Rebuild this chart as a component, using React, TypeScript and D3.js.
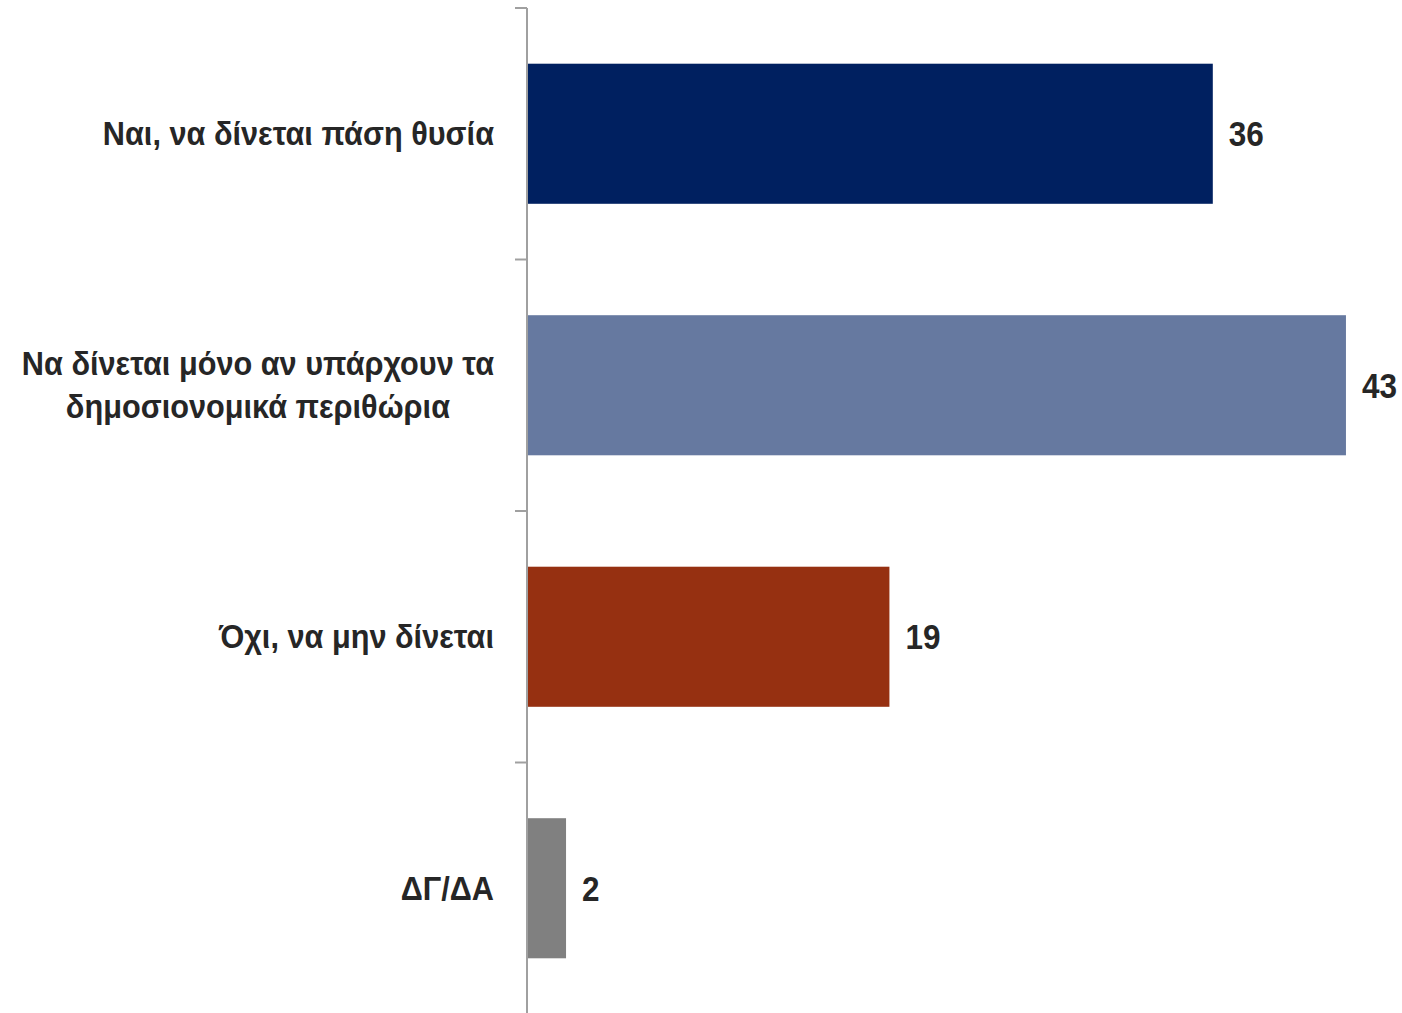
import React, { useEffect, useRef } from "react";
import * as d3 from "d3";

const categories = [
  ["Ναι, να δίνεται πάση θυσία"],
  ["Να δίνεται μόνο αν υπάρχουν τα", "δημοσιονομικά περιθώρια"],
  ["Όχι, να μην δίνεται"],
  ["ΔΓ/ΔΑ"],
];
const values = [36, 43, 19, 2];
const colors = ["#002060", "#6679A0", "#963011", "#808080"];

const W = 1402;
const H = 1013;
const FONT = "'Liberation Sans', Arial, sans-serif";
const SX = 0.93;
const VSX = 0.9;
const CAT_SIZE = 33;
const VAL_SIZE = 35;

export default function App() {
  const ref = useRef<SVGSVGElement>(null);
  useEffect(() => {
    const svg = d3.select(ref.current);
    svg.selectAll("*").remove();
    const idx = categories.map((_, i) => String(i));
    const y = d3.scaleBand().domain(idx).range([8, 1014]).paddingInner(0.443).paddingOuter(0.2215);
    const x = d3.scaleLinear().domain([0, 45]).range([528, 1384]);
    const step = y.step();

    svg
      .selectAll("rect.bar")
      .data(values)
      .join("rect")
      .attr("x", x(0))
      .attr("y", (_, i) => y(String(i))!)
      .attr("width", (d) => x(d) - x(0))
      .attr("height", y.bandwidth())
      .attr("fill", (_, i) => colors[i]);

    // axis line and ticks
    svg.append("line").attr("x1", 527).attr("x2", 527).attr("y1", 8).attr("y2", H).attr("stroke", "#A0A0A0").attr("stroke-width", 2);
    d3.range(categories.length + 1).forEach((k) => {
      const ty = 8 + k * step;
      svg.append("line").attr("x1", 515).attr("x2", 527).attr("y1", ty).attr("y2", ty).attr("stroke", "#A0A0A0").attr("stroke-width", 2);
    });

    // value labels
    values.forEach((d, i) => {
      svg
        .append("g")
        .attr("transform", `translate(${x(d) + 16},${y(String(i))! + y.bandwidth() / 2}) scale(${VSX},1)`)
        .append("text")
        .attr("dy", "0.35em")
        .attr("font-family", FONT)
        .attr("font-weight", "bold")
        .attr("font-size", VAL_SIZE)
        .attr("fill", "#262626")
        .text(String(d));
    });

    // category labels
    const rightEdge = 494;
    const lh = 43;
    categories.forEach((lines, i) => {
      const cy = y(String(i))! + y.bandwidth() / 2;
      const g = svg.append("g").attr("transform", `translate(${rightEdge},${cy}) scale(${SX},1)`);
      const texts = lines.map((l, j) =>
        g
          .append("text")
          .attr("y", (j - (lines.length - 1) / 2) * lh)
          .attr("dy", "0.35em")
          .attr("font-family", FONT)
          .attr("font-weight", "bold")
          .attr("font-size", CAT_SIZE)
          .attr("fill", "#262626")
          .attr("text-anchor", "middle")
          .text(l)
      );
      const maxW = d3.max(texts, (t) => (t.node() as SVGTextElement).getComputedTextLength()) || 0;
      texts.forEach((t) => t.attr("x", -maxW / 2));
    });
  }, []);
  return (
    <svg
      ref={ref}
      width={W}
      height={H}
      style={{ position: "absolute", left: 0, top: 0, background: "#fff" }}
    />
  );
}
